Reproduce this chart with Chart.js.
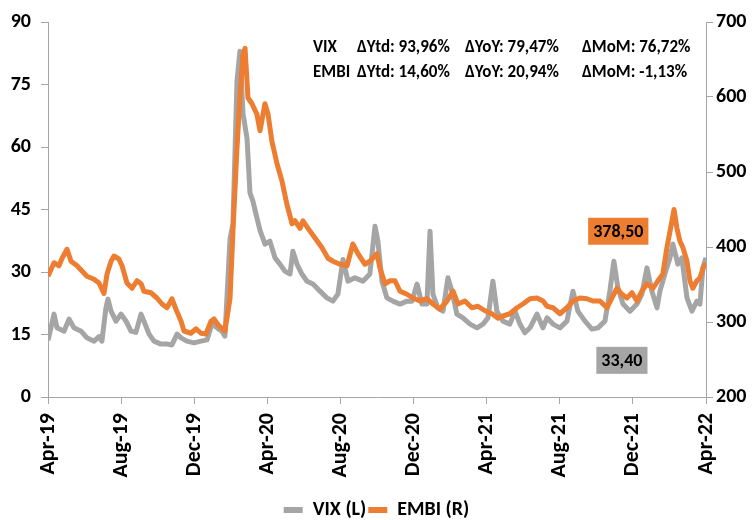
<!DOCTYPE html>
<html>
<head>
<meta charset="utf-8">
<script src="https://cdn.jsdelivr.net/npm/chart.js@4/dist/chart.umd.min.js"></script>
<style>
  html, body { margin: 0; padding: 0; background: #fff; width: 753px; height: 520px; overflow: hidden; }
</style>
</head>
<body>
<canvas id="c" width="753" height="520"></canvas>
<script>
// ---- DATA ----
// x positions: months elapsed since the start of April 2019
const xLabels = ['Apr-19','Aug-19','Dec-19','Apr-20','Aug-20','Dec-20','Apr-21','Aug-21','Dec-21','Apr-22'];
const leftTicks = [0, 15, 30, 45, 60, 75, 90];
const rightTicks = [200, 300, 400, 500, 600, 700];

const vixMonths = [0,0.33,0.49,0.88,1.15,1.42,1.81,2.13,2.52,2.79,2.95,3.17,3.28,3.45,3.72,3.99,4.27,4.54,4.81,5.09,5.25,5.53,5.80,6.18,6.51,6.78,7.06,7.28,7.60,7.99,8.37,8.70,8.97,9.25,9.52,9.68,9.96,10.12,10.34,10.50,10.67,10.89,11.05,11.21,11.43,11.60,11.87,12.14,12.42,12.69,12.96,13.24,13.40,13.62,13.89,14.17,14.50,14.88,15.26,15.59,15.86,16.14,16.41,16.79,17.23,17.61,17.89,18.05,18.27,18.54,18.87,19.26,19.64,19.91,20.19,20.46,20.73,20.90,21.06,21.33,21.61,21.88,22.10,22.37,22.70,23.09,23.47,23.80,24.07,24.34,24.56,24.89,25.27,25.55,25.82,26.09,26.37,26.75,27.08,27.30,27.63,28.01,28.39,28.72,28.99,29.38,29.76,30.09,30.47,30.74,30.96,31.18,31.46,31.84,32.22,32.49,32.77,33.04,33.32,33.48,33.75,34.03,34.19,34.46,34.68,34.96,35.23,35.50,35.67,35.83,36.00];
const vixValues = [13.6,19.9,16.6,15.8,18.7,16.6,15.8,14.2,13.4,14.5,13.4,21.4,23.5,20.6,18.2,19.9,18.2,15.8,15.5,19.9,18.2,15.1,13.4,12.7,12.7,12.5,15.1,14.2,13.4,13.0,13.4,13.7,17.5,16.6,15.8,14.6,38.0,41.5,75.8,83.0,68.0,62.0,49.0,47.0,43.0,40.0,36.7,37.4,33.4,31.9,30.2,29.5,35.0,31.9,29.5,27.8,27.1,25.4,23.8,23.0,24.7,33.0,27.8,28.6,27.8,29.5,41.0,37.4,27.8,23.8,23.0,22.3,23.0,23.0,27.1,22.3,22.3,39.8,24.7,21.4,20.6,28.6,25.4,19.9,19.0,17.5,16.6,17.5,19.0,27.8,20.6,18.2,17.5,20.6,17.5,15.4,16.6,19.9,16.6,19.0,17.5,16.6,18.2,25.4,20.6,18.2,16.3,16.6,18.2,25.4,32.6,26.2,22.3,20.6,22.3,24.7,31.0,25.4,21.4,25.4,29.5,33.4,36.7,31.9,33.4,23.8,20.6,23.0,22.3,31.0,33.4];

const embiMonths = [0,0.33,0.60,0.77,1.04,1.26,1.59,1.86,2.13,2.52,2.79,3.06,3.23,3.45,3.61,3.88,4.05,4.32,4.60,4.87,5.09,5.25,5.63,5.96,6.24,6.51,6.78,7.00,7.28,7.44,7.82,8.10,8.37,8.64,8.92,9.08,9.35,9.68,9.96,10.12,10.34,10.50,10.67,10.78,10.94,11.16,11.43,11.60,11.87,12.04,12.25,12.53,12.80,13.07,13.35,13.51,13.79,13.95,14.22,14.61,14.99,15.32,15.59,15.97,16.36,16.68,16.96,17.34,17.61,18.00,18.16,18.44,18.71,18.98,19.26,19.64,19.97,20.35,20.73,21.06,21.44,21.83,22.16,22.43,22.81,23.19,23.52,23.91,24.29,24.62,24.89,25.27,25.66,25.98,26.37,26.75,27.08,27.30,27.63,28.01,28.39,28.72,29.10,29.49,29.81,30.20,30.58,30.85,31.13,31.40,31.67,31.95,32.22,32.49,32.77,33.10,33.37,33.64,33.86,34.14,34.25,34.41,34.57,34.74,34.96,35.12,35.28,35.50,35.67,35.83,36.00];
const embiValues = [361,379,375,385,397,381,375,368,361,357,352,338,364,381,388,384,375,352,345,355,351,341,339,332,324,319,331,317,301,288,285,291,285,284,301,304,295,288,332,421,532,599,657,665,599,591,577,555,591,577,541,511,488,457,431,435,425,435,425,412,399,385,381,377,375,404,391,377,381,391,372,351,355,355,341,337,332,328,331,324,317,328,341,324,328,319,321,315,311,305,308,311,319,324,331,332,328,321,319,311,319,328,332,331,328,328,319,332,345,337,332,339,328,341,351,345,355,364,399,435,450,425,408,399,381,355,345,355,359,371,378.5];

const vixStats = ['VIX', 'ΔYtd: 93,96%', 'ΔYoY: 79,47%', 'ΔMoM: 76,72%'];
const embiStats = ['EMBI', 'ΔYtd: 14,60%', 'ΔYoY: 20,94%', 'ΔMoM: -1,13%'];

// ---- STYLE ----
const FONT = 'Carlito, Lato, "Liberation Sans", sans-serif';
const GRAY = '#a5a5a5';
const ORANGE = '#ed7d31';
const AXIS = '#a6a6a6';

function fmt(v) { return v.toFixed(2).replace('.', ','); }

const overlayPlugin = {
  id: 'overlay',
  afterDatasetsDraw(chart) {
    const ctx = chart.ctx;
    const xs = chart.scales.x, yl = chart.scales.y, yr = chart.scales.y1;
    ctx.save();
    ctx.fillStyle = '#000';
    ctx.font = 'bold 17px ' + FONT;
    ctx.textBaseline = 'alphabetic';
    ctx.textAlign = 'left';
    const cols = [313, 357, 465, 582];
    vixStats.forEach((t, i) => ctx.fillText(t, cols[i], 52));
    embiStats.forEach((t, i) => ctx.fillText(t, cols[i], 77));

    ctx.font = 'bold 18px ' + FONT;
    ctx.textAlign = 'center';
    ctx.textBaseline = 'middle';
    const drawBox = (txt, cx, cy, fill) => {
      const w = ctx.measureText(txt).width + 10;
      const h = 27;
      ctx.fillStyle = fill;
      ctx.fillRect(cx - w / 2, cy - h / 2, w, h);
      ctx.fillStyle = '#000';
      ctx.fillText(txt, cx, cy + 1);
    };
    const lastE = embiValues[embiValues.length - 1];
    const lastV = vixValues[vixValues.length - 1];
    drawBox(fmt(lastE), xs.getPixelForValue(31.2), yr.getPixelForValue(421), ORANGE);
    drawBox(fmt(lastV), xs.getPixelForValue(31.4), yl.getPixelForValue(8.8), GRAY);
    ctx.restore();
  }
};

const chart = new Chart(document.getElementById('c'), {
  type: 'line',
  data: {
    datasets: [
      {
        label: 'VIX (L)',
        data: vixMonths.map((m, i) => ({ x: m, y: vixValues[i] })),
        borderColor: GRAY, backgroundColor: GRAY,
        borderWidth: 5, pointRadius: 0, tension: 0,
        borderJoinStyle: 'round', yAxisID: 'y', order: 1
      },
      {
        label: 'EMBI (R)',
        data: embiMonths.map((m, i) => ({ x: m, y: embiValues[i] })),
        borderColor: ORANGE, backgroundColor: ORANGE,
        borderWidth: 5, pointRadius: 0, tension: 0,
        borderJoinStyle: 'round', yAxisID: 'y1', order: 0
      }
    ]
  },
  options: {
    responsive: false,
    animation: false,
    layout: { padding: { top: 21, left: 0, right: 0, bottom: -10 } },
    plugins: {
      tooltip: { enabled: false },
      legend: {
        position: 'bottom',
        labels: {
          sort: (a, b) => a.datasetIndex - b.datasetIndex,
          boxWidth: 19, boxHeight: 6,
          color: '#000',
          font: { family: FONT, size: 20, weight: 'bold' },
          padding: 2,
          generateLabels: (chart) => chart.data.datasets.map((d, i) => ({
            text: d.label, fillStyle: d.borderColor, strokeStyle: d.borderColor,
            lineWidth: 0, datasetIndex: i, hidden: false
          }))
        }
      }
    },
    scales: {
      x: {
        type: 'linear', min: 0, max: 36,
        afterBuildTicks: (s) => { s.ticks = xLabels.map((_, i) => ({ value: i * 4 })); },
        afterFit: (s) => { s.height = 101; },
        ticks: {
          autoSkip: false, maxRotation: 90, minRotation: 90,
          color: '#000', padding: 9,
          font: { family: FONT, size: 22, weight: 'bold' },
          callback: (v) => xLabels[Math.round(v / 4)]
        },
        grid: { drawOnChartArea: false, drawTicks: true, tickLength: 7, color: AXIS },
        border: { display: true, color: AXIS, width: 1 }
      },
      y: {
        position: 'left', min: 0, max: 90,
        afterBuildTicks: (s) => { s.ticks = leftTicks.map(v => ({ value: v })); },
        afterFit: (s) => { s.width = 48; },
        ticks: { color: '#000', padding: 10, font: { family: FONT, size: 20, weight: 'bold' } },
        grid: { drawOnChartArea: false, drawTicks: true, tickLength: 7, color: AXIS },
        border: { display: true, color: AXIS, width: 1 }
      },
      y1: {
        position: 'right', min: 200, max: 700,
        afterBuildTicks: (s) => { s.ticks = rightTicks.map(v => ({ value: v })); },
        afterFit: (s) => { s.width = 47; },
        ticks: { color: '#000', padding: 3, font: { family: FONT, size: 20, weight: 'bold' } },
        grid: { drawOnChartArea: false, drawTicks: true, tickLength: 7, color: AXIS },
        border: { display: true, color: AXIS, width: 1 }
      }
    }
  },
  plugins: [overlayPlugin]
});
</script>
</body>
</html>
